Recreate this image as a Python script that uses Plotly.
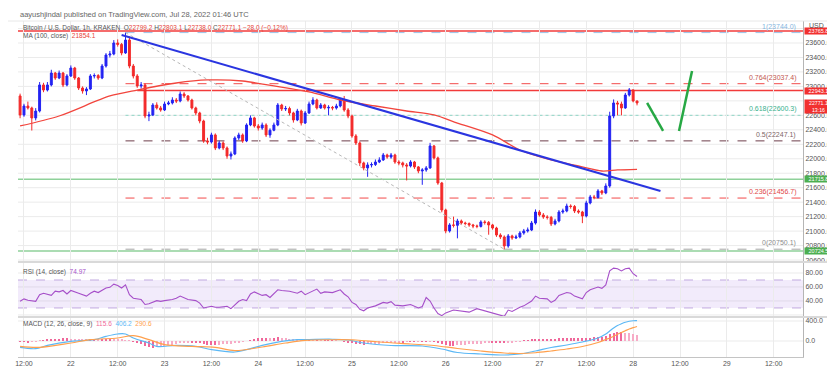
import pandas as pd
import plotly.graph_objects as go
from plotly.subplots import make_subplots

# ---------------- data ----------------
start_time = "2022-07-21 11:00"   # first hourly candle
first_open = 22868
closes = [
    22605, 22729, 22702, 22564, 22660, 23020, 22950, 23020, 23185, 23116,
    23185, 23020, 23144, 23254, 23116, 22978, 22937, 22964, 23144, 23150,
    23116, 23282, 23434, 23448, 23600, 23580, 23462, 23641, 23282, 23144,
    23006, 23020, 22591, 22605, 22743, 22702, 22674, 22757, 22771, 22812,
    22798, 22895, 22868, 22812, 22702, 22633, 22522, 22246, 22232, 22329,
    22149, 22218, 22149, 22038, 22066, 22287, 22329, 22246, 22467, 22564,
    22453, 22425, 22467, 22329, 22394, 22467, 22743, 22688, 22695, 22633,
    22536, 22660, 22494, 22633, 22757, 22812, 22702, 22743, 22702, 22710,
    22702, 22729, 22812, 22674, 22591, 22315, 22218, 21942, 21873, 21914,
    21920, 21955, 21983, 22052, 22024, 22052, 21955, 21942, 21914, 21900,
    21955, 21887, 21831, 21845, 21873, 22177, 22011, 21665, 21292, 21002,
    21085, 21080, 21140, 21112, 21105, 21085, 21071, 21065, 21126, 21120,
    21085, 21043, 20946, 20919, 20795, 20933, 20905, 20919, 20974, 21002,
    21015, 21112, 21264, 21223, 21195, 21190, 21099, 21140, 21264, 21278,
    21347, 21340, 21278, 21264, 21209, 21389, 21472, 21465, 21555, 21527,
    21624, 22591, 22771, 22757, 22702, 22881, 22951, 22799.2, 22771.1]
highs = [
    22900, 22760, 22790, 22720, 22700, 23060, 23050, 23060, 23230, 23200,
    23220, 23200, 23170, 23290, 23270, 23130, 23000, 22990, 23170, 23180,
    23170, 23310, 23460, 23490, 23640, 23650, 23600, 23744, 23690, 23310,
    23170, 23060, 23040, 22650, 22770, 22780, 22730, 22790, 22800, 22850,
    22840, 22930, 22920, 22880, 22830, 22720, 22650, 22540, 22290, 22360,
    22350, 22250, 22240, 22170, 22100, 22310, 22360, 22350, 22490, 22600,
    22580, 22480, 22500, 22490, 22420, 22500, 22770, 22760, 22730, 22720,
    22650, 22690, 22680, 22660, 22790, 22850, 22830, 22770, 22760, 22740,
    22730, 22760, 22840, 22868, 22700, 22610, 22340, 22240, 21960, 21950,
    21950, 21990, 22020, 22080, 22070, 22080, 22070, 21980, 21960, 21940,
    21980, 21970, 21900, 21870, 21900, 22220, 22190, 22030, 21680, 21310,
    21110, 21200, 21170, 21160, 21130, 21120, 21100, 21090, 21150, 21150,
    21140, 21100, 21060, 20970, 20940, 20960, 20950, 20950, 21000, 21030,
    21050, 21140, 21300, 21290, 21250, 21220, 21210, 21170, 21290, 21310,
    21380, 21370, 21360, 21300, 21280, 21420, 21500, 21500, 21580, 21570,
    21660, 22650, 22820, 22800, 22790, 22910, 22978, 22960, 22803.1]
lows = [
    22560, 22580, 22680, 22390, 22530, 22640, 22920, 22930, 23000, 23090,
    23100, 22990, 23000, 23130, 23090, 22950, 22900, 22880, 22950, 23110,
    23090, 23100, 23260, 23400, 23430, 23550, 23430, 23450, 23250, 23110,
    22980, 22970, 22560, 22520, 22590, 22680, 22650, 22660, 22740, 22750,
    22770, 22780, 22840, 22790, 22680, 22600, 22490, 22220, 22200, 22210,
    22120, 22130, 22120, 22000, 21990, 22050, 22260, 22220, 22230, 22450,
    22430, 22390, 22400, 22300, 22290, 22380, 22450, 22660, 22660, 22600,
    22500, 22520, 22460, 22480, 22620, 22740, 22680, 22690, 22680, 22600,
    22670, 22680, 22710, 22650, 22560, 22290, 22190, 21900, 21840, 21750,
    21880, 21900, 21940, 21970, 22000, 22000, 21930, 21910, 21880, 21700,
    21880, 21860, 21800, 21640, 21820, 21860, 21990, 21640, 21260, 20970,
    20980, 21050, 20900, 21090, 21080, 21060, 21040, 21040, 21050, 21090,
    20950, 21020, 20920, 20890, 20750.1, 20770, 20880, 20890, 20900, 20950,
    20980, 21000, 21090, 21200, 21170, 21160, 21070, 21080, 21120, 21240,
    21260, 21310, 21250, 21240, 21110, 21190, 21370, 21440, 21450, 21500,
    21510, 21600, 22560, 22600, 22600, 22690, 22860, 22780, 22738.0]

# MA(100) read at sample candles (candle index, value)
ma_idx = [0, 10, 23, 30, 40, 48, 57, 65, 74, 82, 91, 99, 106, 112, 121, 128, 135, 143, 149, 153, 158]
ma_val = [22453, 22591, 22868, 22950, 23047, 23089, 23075, 23006, 22923, 22812, 22729,
          22660, 22605, 22494, 22329, 22121, 21997, 21900, 21831, 21845, 21854.1]

rsi_idx = [0, 1, 2, 4, 5, 6, 8, 9, 10, 11, 12, 13, 15, 17, 18, 19, 20, 22, 23, 24,
           25, 26, 27, 28, 29, 31, 32, 33, 35, 36, 37, 39, 40, 41, 43, 45, 46, 47, 49, 50,
           51, 53, 54, 56, 57, 58, 59, 60, 62, 63, 64, 66, 67, 69, 71, 72, 73, 74, 75, 76,
           77, 78, 80, 82, 83, 84, 85, 86, 87, 88, 89, 91, 93, 94, 95, 96, 98, 100, 102, 103,
           104, 105, 106, 107, 108, 109, 111, 112, 114, 115, 117, 119, 120, 121, 122, 123, 124, 125, 126, 128,
           129, 131, 132, 133, 135, 136, 137, 138, 140, 141, 142, 144, 145, 146, 148, 149, 150, 151, 152, 153,
           154, 155, 156, 157, 158]
rsi_val = [39.5, 43, 41, 39.5, 49, 51, 48, 54, 53, 55, 50, 55, 51, 47, 51, 54, 52, 58.5, 59.5, 64,
           62, 58.5, 63, 49, 44, 42, 35, 36, 40.5, 39.5, 40.5, 42, 44, 47, 42, 40.5, 37, 30, 32.5, 31,
           31, 32.5, 29, 39.5, 42, 40.5, 50, 53, 48, 49, 45, 56, 55, 54, 51, 54, 49, 52, 55, 57,
           51, 53, 52, 56, 50, 46, 38, 35, 28, 26, 30, 33, 38, 37, 39, 34, 33, 35, 30, 32,
           45, 40, 30, 22, 19, 23, 27, 26, 25, 24, 29, 26, 24, 22, 21, 20, 18, 27, 25, 31,
           33, 40, 47, 44, 43, 38, 41, 48, 52, 51, 47, 43, 52, 56, 60, 58, 63, 83, 87, 86,
           83, 86, 87, 79, 74.97]

macd_idx = [0, 4, 7, 13, 19, 22, 25, 27, 29, 33, 35, 40, 45, 49, 55, 58, 62, 67, 71, 74,
            80, 84, 88, 95, 103, 108, 112, 118, 124, 128, 132, 136, 140, 144, 148, 150, 151, 152, 153, 154,
            155, 156, 157, 158]
macd_val = [-127, -153, -87, -7, 27, 93, 140, 140, 60, -40, -107, -87, -107, -173, -220, -173, -87, -7, 27, 30,
            35, 20, -40, -90, -100, -160, -230, -260, -280, -260, -200, -130, -80, -20, 60, 140, 200, 260, 310, 345,
            375, 395, 405, 406.2]
signal_idx = [0, 5, 13, 18, 25, 29, 33, 37, 44, 50, 55, 62, 68, 73, 80, 86, 92, 100, 106, 112,
              118, 124, 128, 132, 136, 140, 144, 148, 150, 151, 152, 153, 154, 155, 156, 157, 158]
signal_val = [-107, -127, -40, 27, 60, 107, 27, -73, -107, -127, -193, -120, -40, 13, 25, 20, -20, -60, -90, -150,
              -200, -240, -250, -235, -200, -160, -110, -30, 30, 60, 95, 135, 170, 205, 240, 268, 290.6]
macd_hist = [
    -15, -20, -25, -20, -10, 5,
    20, 30, 40, 45, 50, 55, 55, 50, 45, 40, 35, 30, 30, 30, 25,
    30, 40, 50, 45, 35, 25, 15, 5, -15, -35, -60,
    -100, -125, -130, -120, -110, -100, -85, -70, -60,
    -45, -35, -30, -30, -35, -45, -60, -70, -75, -80,
    -75, -65, -60, -55, -45, -30, -15, 0,
    20, 40, 55, 60, 60, 55, 65, 75,
    65, 55, 45, 40, 35, 30, 30, 30,
    15, 15, 10, 10, 10, 10, 5, 0, -10,
    -25, -40, -55, -65, -70, -65, -60,
    -55, -50, -45, -40, -35, -30, -25, -25, -20, -20, -20, -15, -15, -15,
    -10, -20, -40, -60, -80, -90, -90, -85,
    -80, -75, -65, -60, -55, -50, -45, -40, -40, -40, -40, -45,
    -35, -25, -15, -5, 5, 15, 25, 35, 40, 45, 45,
    50, 50, 55, 55, 55, 60, 60, 60, 60, 65, 70, 75, 80, 90,
    110, 140, 165, 175, 175, 170, 155, 137, 115.6]

fib_ratios = ["1", "0.764", "0.618", "0.5", "0.236", "0"]
fib_prices = [23744.0, 23037.4, 22600.3, 22247.1, 21456.7, 20750.1]
fib_start = "2022-07-22 14:00"
red_levels = [23765.8, 22943.1]
green_levels = [21715.8, 20724.5]
trend_times = ["2022-07-22 13:00", "2022-07-28 07:00"]
trend_prices = [23710, 21555]
anchor_times = ["2022-07-22 14:00", "2022-07-26 15:00"]
anchor_prices = [23744.0, 20750.1]
arrow1_times = ["2022-07-28 03:35", "2022-07-28 07:40"]
arrow1_prices = [22771, 22384]
arrow2_times = ["2022-07-28 11:45", "2022-07-28 15:05"]
arrow2_prices = [22384, 23213]
price_ticks = [20600, 20800, 21000, 21200, 21400, 21600, 21800, 22000, 22200, 22400,
               22600, 23000, 23200, 23400, 23600]
price_grid = [20600, 20800, 21000, 21200, 21400, 21600, 21800, 22000, 22200, 22400,
              22600, 22800, 23000, 23200, 23400, 23600, 23800]
rsi_ticks = [40, 60, 80]
rsi_grid = [20, 40, 60, 80]
macd_ticks = [0, 400]
x_ticks = ["2022-07-21 12:00", "2022-07-22 00:00", "2022-07-22 12:00", "2022-07-23 00:00",
           "2022-07-23 12:00", "2022-07-24 00:00", "2022-07-24 12:00", "2022-07-25 00:00",
           "2022-07-25 12:00", "2022-07-26 00:00", "2022-07-26 12:00", "2022-07-27 00:00",
           "2022-07-27 12:00", "2022-07-28 00:00", "2022-07-28 12:00", "2022-07-29 00:00",
           "2022-07-29 12:00"]
x_tick_text = ["12:00", "22", "12:00", "23", "12:00", "24", "12:00", "25", "12:00", "26",
               "12:00", "27", "12:00", "28", "12:00", "29", "12:00"]

# ---------------- geometry helpers ----------------
W, H = 835, 367
ML, MR, MT, MB = 10, 40, 13, 18
PW, PH = W - ML - MR, H - MT - MB
def px(x):
    return (x - ML) / PW
def py(y):
    return (H - MB - y) / PH

t0 = pd.Timestamp(start_time)
def T(i):
    return t0 + pd.Timedelta(hours=i)
times = [T(i) for i in range(len(closes))]
opens = [first_open] + closes[:-1]
x_range = ["2022-07-21 10:28", "2022-07-29 19:30"]
x_right = x_range[1]
label_x = "2022-07-29 18:20"

BLUE = "#2323f2"
RED = "#f32a2a"
GRID = "#ebebeb"
FONT = "Liberation Sans, Arial, sans-serif"

fig = make_subplots(rows=3, cols=1, shared_xaxes=True, vertical_spacing=0)

# ---------------- horizontal grid (drawn as shapes so labels can be skipped) ----------------
for p in price_grid:
    fig.add_shape(type="line", xref="paper", yref="y", x0=0, x1=1, y0=p, y1=p,
                  line=dict(color=GRID, width=1), layer="below")
for p in rsi_grid:
    fig.add_shape(type="line", xref="paper", yref="y2", x0=0, x1=1, y0=p, y1=p,
                  line=dict(color=GRID, width=1), layer="below")
for p in macd_ticks:
    fig.add_shape(type="line", xref="paper", yref="y3", x0=0, x1=1, y0=p, y1=p,
                  line=dict(color=GRID, width=1), layer="below")

# ---------------- main pane ----------------
fig.add_shape(type="line", xref="paper", yref="y", x0=0, x1=1, y0=red_levels[0], y1=red_levels[0],
              line=dict(color="#f23b3b", width=1.6), layer="below")
fig.add_shape(type="line", xref="x", yref="y", x0=T(30), x1=x_right,
              y0=red_levels[1], y1=red_levels[1], line=dict(color="#f23b3b", width=1.6), layer="below")
for p in green_levels:
    fig.add_shape(type="line", xref="paper", yref="y", x0=0, x1=1, y0=p, y1=p,
                  line=dict(color="#8fd19a", width=1.6), layer="below")

fib_line_styles = [("#9cc3e6", "dash"), ("#f24a4a", "dash"), ("#8fd6c6", "dot"),
                   ("#6e3d4a", "dash"), ("#f24a4a", "dash"), ("#a6a6a6", "dash")]
fib_label_colors = ["#86b6e0", "#c4574f", "#3bb08d", "#7d6666", "#e04848", "#8c8c8c"]
for r, p, (c, d), lc in zip(fib_ratios, fib_prices, fib_line_styles, fib_label_colors):
    fig.add_shape(type="line", xref="x", yref="y", x0=fib_start, x1=x_right, y0=p, y1=p,
                  line=dict(color=c, width=1, dash=d), layer="below")
    fig.add_annotation(xref="x", yref="y", x=label_x, y=p, text=f"{r}({p:.1f})",
                       showarrow=False, xanchor="right", yanchor="bottom", yshift=0,
                       font=dict(size=7, color=lc, family=FONT))

fig.add_trace(go.Scatter(x=anchor_times, y=anchor_prices, mode="lines",
                         line=dict(color="#b8b8b8", width=1, dash="dot"), hoverinfo="skip"), row=1, col=1)

fig.add_trace(go.Candlestick(x=times, open=opens, high=highs, low=lows, close=closes,
                             increasing=dict(line=dict(color=BLUE, width=1), fillcolor=BLUE),
                             decreasing=dict(line=dict(color=RED, width=1), fillcolor=RED),
                             whiskerwidth=0, hoverinfo="skip"), row=1, col=1)

fig.add_trace(go.Scatter(x=[T(i) for i in ma_idx], y=ma_val, mode="lines",
                         line=dict(color="#f2453d", width=1.3, shape="spline", smoothing=0.8),
                         hoverinfo="skip"), row=1, col=1)

fig.add_trace(go.Scatter(x=trend_times, y=trend_prices, mode="lines",
                         line=dict(color="#2a35e0", width=2), hoverinfo="skip"), row=1, col=1)
for tt, pp in [(arrow1_times, arrow1_prices), (arrow2_times, arrow2_prices)]:
    fig.add_trace(go.Scatter(x=tt, y=pp, mode="lines",
                             line=dict(color="#27a844", width=2.5), hoverinfo="skip"), row=1, col=1)

# ---------------- RSI pane ----------------
fig.add_shape(type="rect", xref="paper", yref="y2", x0=0, x1=1, y0=30, y1=70,
              fillcolor="rgba(150,90,220,0.12)", line=dict(width=0), layer="below")
for lvl in [70, 30]:
    fig.add_shape(type="line", xref="paper", yref="y2", x0=0, x1=1, y0=lvl, y1=lvl,
                  line=dict(color="rgba(150,110,200,0.55)", width=1, dash="dash"), layer="below")
fig.add_trace(go.Scatter(x=[T(i) for i in rsi_idx], y=rsi_val, mode="lines",
                         line=dict(color="#a64fc9", width=1.1), hoverinfo="skip"), row=2, col=1)

# ---------------- MACD pane ----------------
hist_colors = []
for i, v in enumerate(macd_hist):
    prev = macd_hist[i - 1] if i else v
    hist_colors.append("#f0679a" if abs(v) >= abs(prev) else "#f7abc6")
fig.add_trace(go.Bar(x=times, y=macd_hist, marker=dict(color=hist_colors, line=dict(width=0)),
                     width=0.3 * 3600 * 1000, hoverinfo="skip"), row=3, col=1)
fig.add_trace(go.Scatter(x=[T(i) for i in macd_idx], y=macd_val, mode="lines",
                         line=dict(color="#5cb8f5", width=1.2, shape="spline"), hoverinfo="skip"), row=3, col=1)
fig.add_trace(go.Scatter(x=[T(i) for i in signal_idx], y=signal_val, mode="lines",
                         line=dict(color="#ffa04d", width=1.2, shape="spline"), hoverinfo="skip"), row=3, col=1)

# ---------------- axes ----------------
tickfont = dict(size=7, color="#555", family=FONT)
fig.update_xaxes(range=x_range, tickvals=x_ticks, ticktext=x_tick_text, showgrid=True,
                 gridcolor=GRID, gridwidth=1, zeroline=False, showticklabels=False, ticks="",
                 rangeslider_visible=False, automargin=False)
fig.update_xaxes(showticklabels=True, tickfont=tickfont, showline=True, linecolor="#c4c4c4",
                 row=3, col=1)

yax_common = dict(side="right", showgrid=False, zeroline=False, ticks="",
                  showline=True, linecolor="#b5b5b5", linewidth=1, tickfont=tickfont,
                  automargin=False, fixedrange=True)
fig.update_layout(
    yaxis=dict(domain=[py(254), 1], range=[20573, 23904], tickvals=price_ticks,
               tickformat=".1f", **yax_common),
    yaxis2=dict(domain=[py(309), py(254)], range=[17.1, 95.7], tickvals=rsi_ticks,
                tickformat=".2f", **yax_common),
    yaxis3=dict(domain=[0, py(309)], range=[-320, 480], tickvals=macd_ticks,
                tickformat=".1f", **yax_common),
)

# pane separators / frame
for yy in [254, 309]:
    fig.add_shape(type="line", xref="paper", yref="paper", x0=0, x1=px(820), y0=py(yy), y1=py(yy),
                  line=dict(color="#d9d9d9", width=2))
fig.add_shape(type="line", xref="paper", yref="paper", x0=px(820), x1=px(820), y0=py(362), y1=py(13),
              line=dict(color="#e3e3e3", width=1))
fig.add_shape(type="line", xref="paper", yref="paper", x0=px(0), x1=px(820), y0=py(362), y1=py(362),
              line=dict(color="#e3e3e3", width=1))
fig.add_shape(type="line", xref="paper", yref="paper", x0=px(0), x1=px(820), y0=py(13), y1=py(13),
              line=dict(color="#e8e8e8", width=1))

# ---------------- price-axis label boxes ----------------
def axis_box(price, text, color):
    fig.add_annotation(xref="paper", yref="y", x=px(796), y=price, text=text, showarrow=False,
                       xanchor="left", yanchor="middle", bgcolor=color, borderpad=0, width=27,
                       align="center", font=dict(size=5.5, color="white", family=FONT))
axis_box(red_levels[0], "23765.8", "#f2302f")
axis_box(red_levels[1], "22943.1", "#f2302f")
axis_box(green_levels[0], "21715.8", "#4caf50")
axis_box(green_levels[1], "20724.5", "#4caf50")
fig.add_annotation(xref="paper", yref="y", x=px(796), y=closes[-1], text="22771.1<br>13:16",
                   showarrow=False, xanchor="left", yanchor="middle", yshift=-3.5, bgcolor="#f2302f",
                   borderpad=0, width=27, align="center",
                   font=dict(size=5.2, color="white", family=FONT))
fig.add_annotation(xref="paper", yref="paper", x=px(799), y=py(18), text="USD", showarrow=False,
                   xanchor="left", yanchor="middle", font=dict(size=7, color="#555", family=FONT))

# ---------------- header texts ----------------
def text(x, y, s, size=7.5, color="#555"):
    fig.add_annotation(xref="paper", yref="paper", x=px(x), y=py(y), text=s, showarrow=False,
                       xanchor="left", yanchor="middle", font=dict(size=size, color=color, family=FONT))
text(10, 6, "aayushjindal published on TradingView.com, Jul 28, 2022 01:46 UTC", 7.5, "#666")
R = "#e8443a"
text(13, 20, "Bitcoin / U.S. Dollar, 1h, KRAKEN&nbsp; O<span style='color:%s'>22799.2</span> "
             "H<span style='color:%s'>22803.1</span> L<span style='color:%s'>22738.0</span> "
             "C<span style='color:%s'>22771.1</span> <span style='color:%s'>−28.0 (−0.12%%)</span>"
     % (R, R, R, R, R), 6.5, "#555")
text(13, 28, "MA (100, close)&nbsp; <span style='color:%s'>21854.1</span>" % R, 6.5, "#555")
text(13, 264, "RSI (14, close)&nbsp; <span style='color:#a64fc9'>74.97</span>", 6.5, "#555")
text(13, 316, "MACD (12, 26, close, 9)&nbsp; <span style='color:#f0679a'>115.6</span>&nbsp; "
              "<span style='color:#5cb8f5'>406.2</span>&nbsp; <span style='color:#ffa04d'>290.6</span>",
     6.5, "#555")

fig.update_layout(width=W, height=H, margin=dict(l=ML, r=MR, t=MT, b=MB, autoexpand=False),
                  paper_bgcolor="white", plot_bgcolor="white", showlegend=False,
                  font=dict(family=FONT, size=7, color="#555"), bargap=0)

fig.write_html("out.html")
